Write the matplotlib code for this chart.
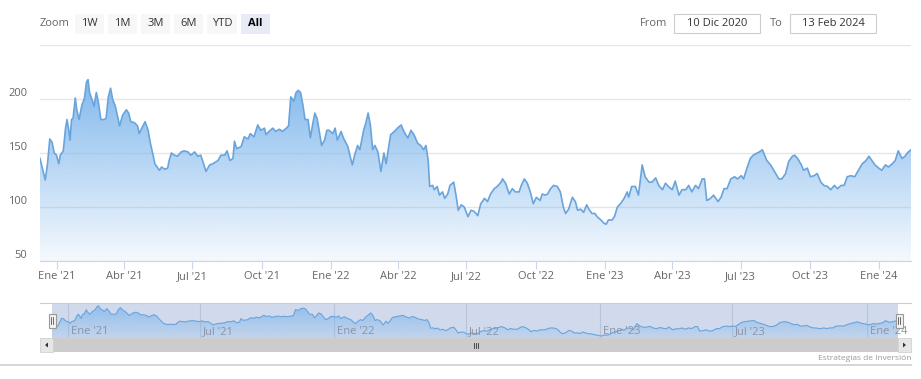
import numpy as np
import pandas as pd
import matplotlib
matplotlib.use("Agg")
import matplotlib.pyplot as plt
import matplotlib.dates as mdates
from matplotlib.patches import Rectangle, Polygon

plt.rcParams['font.family'] = ['Open Sans', 'DejaVu Sans']

# price series
dates = [
  '2020-12-10', '2020-12-17', '2020-12-20', '2020-12-23', '2020-12-26', '2020-12-29',
  '2021-01-01', '2021-01-04', '2021-01-06', '2021-01-08', '2021-01-10', '2021-01-13',
  '2021-01-15', '2021-01-17', '2021-01-19', '2021-01-21', '2021-01-23', '2021-01-26',
  '2021-01-28', '2021-01-31', '2021-02-04', '2021-02-07', '2021-02-10', '2021-02-12',
  '2021-02-14', '2021-02-18', '2021-02-20', '2021-02-23', '2021-02-26', '2021-03-01',
  '2021-03-05', '2021-03-08', '2021-03-11', '2021-03-14', '2021-03-17', '2021-03-20',
  '2021-03-23', '2021-03-26', '2021-03-30', '2021-04-04', '2021-04-07', '2021-04-10',
  '2021-04-15', '2021-04-19', '2021-04-21', '2021-04-26', '2021-04-29', '2021-05-03',
  '2021-05-06', '2021-05-09', '2021-05-12', '2021-05-16', '2021-05-18', '2021-05-21',
  '2021-05-25', '2021-05-29', '2021-05-31', '2021-06-03', '2021-06-07', '2021-06-11',
  '2021-06-16', '2021-06-20', '2021-06-25', '2021-06-29', '2021-07-04', '2021-07-08',
  '2021-07-12', '2021-07-15', '2021-07-19', '2021-07-24', '2021-07-28', '2021-08-04',
  '2021-08-08', '2021-08-13', '2021-08-16', '2021-08-20', '2021-08-24', '2021-08-26',
  '2021-08-29', '2021-09-04', '2021-09-08', '2021-09-13', '2021-09-16', '2021-09-21',
  '2021-09-26', '2021-09-30', '2021-10-05', '2021-10-07', '2021-10-11', '2021-10-16',
  '2021-10-20', '2021-10-25', '2021-10-29', '2021-11-03', '2021-11-06', '2021-11-09',
  '2021-11-13', '2021-11-16', '2021-11-19', '2021-11-22', '2021-11-25', '2021-11-28',
  '2021-12-02', '2021-12-05', '2021-12-08', '2021-12-11', '2021-12-14', '2021-12-17',
  '2021-12-20', '2021-12-24', '2021-12-27', '2021-12-30', '2022-01-04', '2022-01-07',
  '2022-01-10', '2022-01-15', '2022-01-18', '2022-01-24', '2022-01-27', '2022-01-30',
  '2022-02-02', '2022-02-06', '2022-02-09', '2022-02-14', '2022-02-17', '2022-02-20',
  '2022-02-23', '2022-02-26', '2022-03-01', '2022-03-05', '2022-03-09', '2022-03-13',
  '2022-03-16', '2022-03-19', '2022-03-22', '2022-03-27', '2022-03-31', '2022-04-05',
  '2022-04-08', '2022-04-11', '2022-04-14', '2022-04-18', '2022-04-22', '2022-04-27',
  '2022-05-01', '2022-05-05', '2022-05-08', '2022-05-11', '2022-05-13', '2022-05-17',
  '2022-05-19', '2022-05-23', '2022-05-26', '2022-05-30', '2022-06-02', '2022-06-06',
  '2022-06-09', '2022-06-14', '2022-06-17', '2022-06-20', '2022-06-24', '2022-06-28',
  '2022-07-03', '2022-07-07', '2022-07-11', '2022-07-16', '2022-07-20', '2022-07-25',
  '2022-07-29', '2022-08-02', '2022-08-07', '2022-08-11', '2022-08-16', '2022-08-18',
  '2022-08-22', '2022-08-27', '2022-08-31', '2022-09-04', '2022-09-09', '2022-09-12',
  '2022-09-16', '2022-09-20', '2022-09-24', '2022-09-28', '2022-10-02', '2022-10-07',
  '2022-10-10', '2022-10-14', '2022-10-17', '2022-10-21', '2022-10-25', '2022-10-30',
  '2022-11-03', '2022-11-07', '2022-11-10', '2022-11-14', '2022-11-19', '2022-11-23',
  '2022-11-26', '2022-11-30', '2022-12-04', '2022-12-08', '2022-12-11', '2022-12-15',
  '2022-12-19', '2022-12-22', '2022-12-27', '2022-12-31', '2023-01-03', '2023-01-06',
  '2023-01-11', '2023-01-14', '2023-01-18', '2023-01-22', '2023-01-27', '2023-01-31',
  '2023-02-02', '2023-02-06', '2023-02-11', '2023-02-15', '2023-02-20', '2023-02-24',
  '2023-03-01', '2023-03-05', '2023-03-10', '2023-03-14', '2023-03-19', '2023-03-23',
  '2023-03-27', '2023-04-01', '2023-04-05', '2023-04-10', '2023-04-14', '2023-04-19',
  '2023-04-23', '2023-04-27', '2023-05-02', '2023-05-06', '2023-05-11', '2023-05-14',
  '2023-05-17', '2023-05-22', '2023-05-26', '2023-06-01', '2023-06-05', '2023-06-09',
  '2023-06-13', '2023-06-18', '2023-06-23', '2023-06-27', '2023-07-02', '2023-07-05',
  '2023-07-10', '2023-07-14', '2023-07-18', '2023-07-23', '2023-07-26', '2023-07-30',
  '2023-08-02', '2023-08-05', '2023-08-10', '2023-08-15', '2023-08-21', '2023-08-25',
  '2023-08-30', '2023-09-03', '2023-09-08', '2023-09-11', '2023-09-15', '2023-09-20',
  '2023-09-23', '2023-09-28', '2023-10-02', '2023-10-07', '2023-10-11', '2023-10-16',
  '2023-10-20', '2023-10-25', '2023-10-29', '2023-11-03', '2023-11-07', '2023-11-12',
  '2023-11-16', '2023-11-20', '2023-11-25', '2023-11-30', '2023-12-05', '2023-12-10',
  '2023-12-15', '2023-12-19', '2023-12-23', '2023-12-27', '2024-01-01', '2024-01-05',
  '2024-01-10', '2024-01-14', '2024-01-19', '2024-01-23', '2024-01-27', '2024-02-01',
  '2024-02-05', '2024-02-08', '2024-02-13',
]
values = [
  145, 125, 140, 163, 160, 150,
  148, 140, 148, 150, 152, 173,
  181, 173, 162, 181, 182, 201,
  190, 181, 195, 200, 216, 218,
  206, 198, 193, 206, 196, 181,
  181, 182, 202, 210, 199, 194,
  185, 175, 185, 190, 187, 179,
  178, 175, 168, 175, 179, 171,
  159, 150, 140, 136, 134, 137,
  135, 136, 143, 150, 148, 147,
  151, 152, 151, 148, 151, 147,
  148, 142, 133, 139, 140, 143,
  148, 148, 152, 143, 145, 161,
  154, 156, 165, 163, 168, 165,
  176, 171, 173, 167, 170, 173,
  170, 172, 170, 173, 175, 202,
  198, 206, 208, 206, 195, 181,
  181, 164, 176, 187, 182, 170,
  157, 162, 171, 171, 168, 173,
  162, 170, 164, 156, 147, 139,
  148, 157, 153, 171, 178, 187,
  176, 153, 157, 151, 133, 150,
  140, 154, 167, 170, 173, 176,
  171, 167, 164, 171, 167, 159,
  157, 153, 157, 143, 119, 120,
  116, 119, 111, 114, 108, 112,
  120, 123, 111, 97, 102, 100,
  91, 97, 96, 92, 103, 108,
  105, 112, 117, 119, 123, 126,
  122, 112, 117, 114, 114, 120,
  126, 122, 114, 103, 109, 106,
  112, 111, 112, 117, 120, 119,
  114, 100, 94, 98, 109, 105,
  97, 98, 95, 102, 98, 94,
  94, 91, 88, 85, 84, 88,
  88, 91, 100, 103, 108, 114,
  109, 119, 119, 111, 139, 128,
  123, 123, 127, 120, 116, 122,
  119, 116, 124, 111, 116, 116,
  120, 114, 120, 117, 126, 126,
  106, 108, 111, 105, 109, 117,
  117, 126, 128, 126, 129, 126,
  137, 145, 148, 150, 151, 153,
  148, 143, 139, 133, 126, 126,
  131, 142, 147, 148, 145, 139,
  134, 136, 128, 129, 131, 123,
  120, 119, 116, 120, 117, 120,
  120, 128, 129, 128, 134, 140,
  143, 147, 143, 139, 136, 134,
  139, 137, 140, 143, 152, 145,
  147, 150, 153,
]

tick_dates = ['2021-01-01', '2021-04-01', '2021-07-01', '2021-10-01', '2022-01-01',
              '2022-04-01', '2022-07-01', '2022-10-01', '2023-01-01', '2023-04-01',
              '2023-07-01', '2023-10-01', '2024-01-01']
tick_labels = ["Ene '21", "Abr '21", "Jul '21", "Oct '21", "Ene '22", "Abr '22",
               "Jul '22", "Oct '22", "Ene '23", "Abr '23", "Jul '23", "Oct '23", "Ene '24"]
nav_tick_dates = ['2021-01-01', '2021-07-01', '2022-01-01', '2022-07-01',
                  '2023-01-01', '2023-07-01', '2024-01-01']
nav_tick_labels = ["Ene '21", "Jul '21", "Ene '22", "Jul '22", "Ene '23", "Jul '23", "Ene '24"]
y_ticks = [50, 100, 150, 200]
y_grid = [50, 100, 150, 200, 250]
zoom_buttons = ['1W', '1M', '3M', '6M', 'YTD', 'All']
range_from = '10 Dic 2020'
range_to = '13 Feb 2024'
credits = 'Estrategias de Inversión'

W, H = 921, 379
BLUE = '#7cb5ec'
LINE = '#6aa4dc'
TXT = '#666666'

fig = plt.figure(figsize=(W / 100, H / 100), dpi=100)


def box(l, t, r, b):
  return [l / W, 1 - b / H, (r - l) / W, (b - t) / H]


x = mdates.date2num(pd.to_datetime(dates))
y = np.array(values, dtype=float)


def grad_area(a, base, top, a_top, a_bot, lw):
  poly = Polygon(np.column_stack([np.r_[x[0], x, x[-1]], np.r_[base, y, base]]),
                 closed=True, facecolor='none', edgecolor='none')
  a.add_patch(poly)
  rgba = np.zeros((256, 1, 4))
  rgba[..., :3] = matplotlib.colors.to_rgb(BLUE)
  rgba[:, 0, 3] = np.linspace(a_bot, a_top, 256)
  im = a.imshow(rgba, extent=[x[0], x[-1], base, top], origin='lower',
                aspect='auto', interpolation='bilinear', zorder=1)
  im.set_clip_path(poly)
  a.plot(x, y, color=LINE, lw=lw, zorder=3, solid_joinstyle='round')


# main chart
ax = fig.add_axes(box(40, 45, 911, 261))
for g in y_grid:
  ax.axhline(g, color='#e6e6e6', lw=1, zorder=0)
grad_area(ax, 50, y.max(), 0.95, 0.08, 1.2)
ax.set_xlim(x[0], x[-1])
ax.set_ylim(50, 250)
for s in ['top', 'right', 'left']:
  ax.spines[s].set_visible(False)
ax.spines['bottom'].set_color('#ccd6eb')
ax.set_yticks(y_ticks)
ax.set_yticklabels([str(v) for v in y_ticks])
ax.tick_params(axis='y', length=0, pad=9, labelsize=8, labelcolor=TXT)
for lab in ax.get_yticklabels():
  lab.set_verticalalignment('bottom')
ax.set_xticks(mdates.date2num(pd.to_datetime(tick_dates)))
ax.set_xticklabels(tick_labels)
ax.tick_params(axis='x', length=6, color='#ccd6eb', pad=1, labelsize=8, labelcolor=TXT)

# navigator
nav = fig.add_axes(box(52, 303, 898, 338))
nav.axis('off')
nav.set_xlim(x[0], x[-1])
nav.set_ylim(75, 231)
nav.add_patch(Rectangle((0, 0), 1, 1, transform=nav.transAxes,
                        facecolor=(102 / 255, 133 / 255, 194 / 255, 0.3), edgecolor='none', zorder=0))
grad_area(nav, 75, y.max(), 0.75, 0.15, 0.8)
for d, lab in zip(mdates.date2num(pd.to_datetime(nav_tick_dates)), nav_tick_labels):
  nav.axvline(d, color='#b9c4da', lw=0.8, zorder=0.5)
  nav.text(d + 4, 79, lab, fontsize=8, color='#8a93a6', ha='left', va='bottom', zorder=4)

# overlay for toolbar, scrollbar and handles (pixel coordinates)
ov = fig.add_axes([0, 0, 1, 1], zorder=5)
ov.set_xlim(0, W)
ov.set_ylim(H, 0)
ov.axis('off')
ov.patch.set_alpha(0)

ov.text(40, 23.5, 'Zoom', fontsize=8, color=TXT, ha='left', va='center')
bx = [75, 108, 141, 174, 207, 241]
bw = [29, 29, 29, 29, 30, 29]
for lab, l, w in zip(zoom_buttons, bx, bw):
  sel = lab == 'All'
  ov.add_patch(Rectangle((l, 13.5), w, 20, facecolor='#e6ebf5' if sel else '#f7f7f7',
                         edgecolor='none'))
  ov.text(l + w / 2, 23.5, lab, fontsize=8, color='#000000' if sel else '#333333',
          fontweight='bold' if sel else 'normal', ha='center', va='center')

ov.text(667, 23.5, 'From', fontsize=8, color=TXT, ha='right', va='center')
ov.add_patch(Rectangle((674, 14), 86, 19, facecolor='white', edgecolor='#cccccc', lw=0.8))
ov.text(717, 23.5, range_from, fontsize=8, color='#333333', ha='center', va='center')
ov.text(783, 23.5, 'To', fontsize=8, color=TXT, ha='right', va='center')
ov.add_patch(Rectangle((790, 14), 86, 19, facecolor='white', edgecolor='#cccccc', lw=0.8))
ov.text(833, 23.5, range_to, fontsize=8, color='#333333', ha='center', va='center')

# navigator outline
ov.plot([40, 911], [303, 303], color='#cccccc', lw=0.8)

# scrollbar
ov.add_patch(Rectangle((40, 338), 871, 14, facecolor='#f2f2f2', edgecolor='none'))
ov.add_patch(Rectangle((53, 338), 845, 14, facecolor='#cccccc', edgecolor='none'))
ov.add_patch(Rectangle((40, 338), 13, 14, facecolor='#e6e6e6', edgecolor='#cccccc', lw=0.5))
ov.add_patch(Rectangle((898, 338), 13, 14, facecolor='#e6e6e6', edgecolor='#cccccc', lw=0.5))
ov.add_patch(Polygon([[45, 345], [48, 342.5], [48, 347.5]], closed=True, facecolor='#333333'))
ov.add_patch(Polygon([[906, 345], [903, 342.5], [903, 347.5]], closed=True, facecolor='#333333'))
for gx in [474, 476, 478]:
  ov.plot([gx, gx], [342.5, 347.5], color='#333333', lw=0.6)

# navigator handles
for hx in [52, 899]:
  ov.add_patch(Rectangle((hx - 3.5, 313.5), 7, 14, facecolor='#f2f2f2', edgecolor='#999999', lw=0.8))
  for dx in [-1, 1]:
    ov.plot([hx + dx, hx + dx], [317, 324], color='#333333', lw=0.5)

# footer
ov.plot([0, 911], [365, 365], color='#d0d0d0', lw=1.2)
ov.text(911, 358, credits, fontsize=6, color='#999999', ha='right', va='center')

fig.savefig('out.png', dpi=100)
